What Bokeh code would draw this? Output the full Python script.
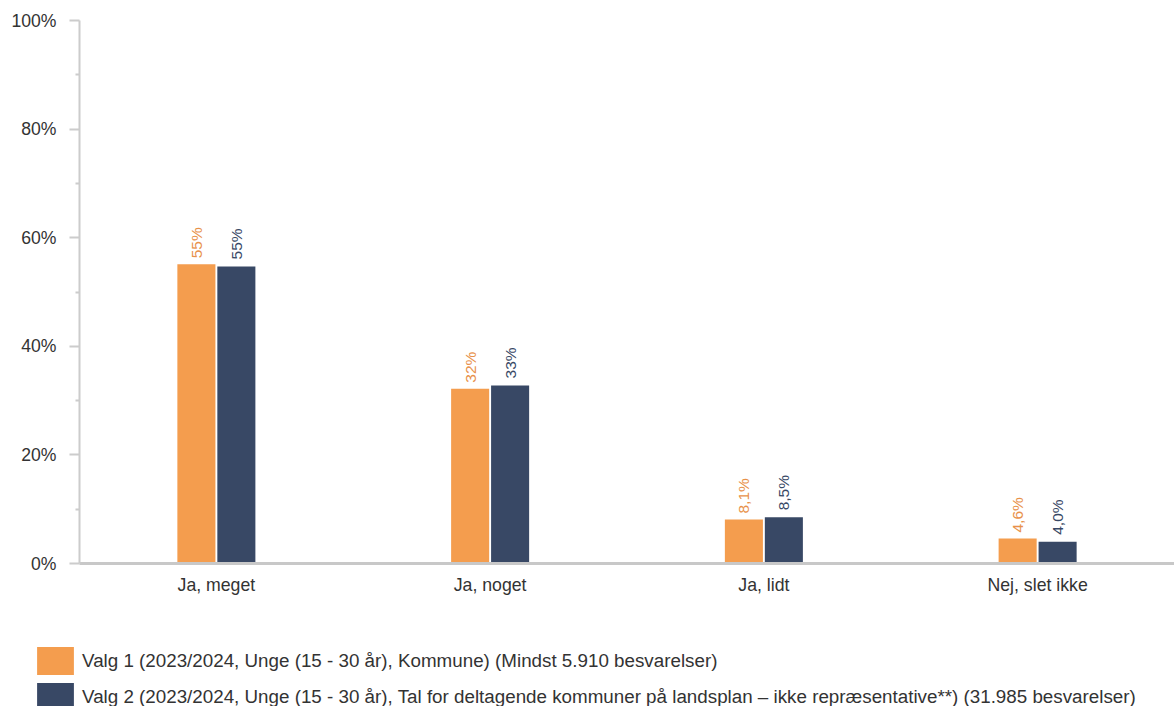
from bokeh.plotting import figure
from bokeh.models import ColumnDataSource, Range1d, FixedTicker, PrintfTickFormatter, Legend, LegendItem, FactorRange
from bokeh.layouts import column
from bokeh.transform import dodge
from bokeh.embed import file_html
from bokeh.resources import INLINE
from bokeh.core.properties import value
import math

categories = ["Ja, meget", "Ja, noget", "Ja, lidt", "Nej, slet ikke"]
valg1 = [55.1, 32.2, 8.1, 4.6]
valg2 = [54.7, 32.8, 8.5, 4.0]
labels1 = ["55%", "32%", "8,1%", "4,6%"]
labels2 = ["55%", "33%", "8,5%", "4,0%"]
series_names = [
    "Valg 1 (2023/2024, Unge (15 - 30 år), Kommune) (Mindst 5.910 besvarelser)",
    "Valg 2 (2023/2024, Unge (15 - 30 år), Tal for deltagende kommuner på landsplan – ikke repræsentative**) (31.985 besvarelser)",
]
y_ticks = [0, 20, 40, 60, 80, 100]

ORANGE = "#F49D4E"
NAVY = "#384865"
ORANGE_TXT = "#E8914A"
FONT = "Liberation Sans"

src = ColumnDataSource(dict(cat=categories, v1=valg1, v2=valg2, l1=labels1, l2=labels2))

p = figure(x_range=FactorRange(*categories, range_padding=0), y_range=Range1d(0, 100),
           width=1174, height=600, output_backend="svg", toolbar_location=None,
           min_border_left=79, min_border_right=0, min_border_top=20, min_border_bottom=37)
p.outline_line_color = None
p.xgrid.grid_line_color = None
p.ygrid.grid_line_color = None
p.frame_align = False

off = 0.073
bw = 0.139
r1 = p.vbar(x=dodge("cat", -off, range=p.x_range), top="v1", width=bw, source=src,
            fill_color=ORANGE, line_color=None)
r2 = p.vbar(x=dodge("cat", off, range=p.x_range), top="v2", width=bw, source=src,
            fill_color=NAVY, line_color=None)

p.text(x=dodge("cat", -off, range=p.x_range), y="v1", text="l1", source=src, angle=math.pi / 2,
       text_align="left", text_baseline="middle", x_offset=0, y_offset=-6,
       text_font=value(FONT), text_font_size="15.5px", text_color=ORANGE_TXT)
p.text(x=dodge("cat", off, range=p.x_range), y="v2", text="l2", source=src, angle=math.pi / 2,
       text_align="left", text_baseline="middle", x_offset=0, y_offset=-7,
       text_font=value(FONT), text_font_size="15.5px", text_color=NAVY)

ya = p.yaxis[0]
ya.ticker = FixedTicker(ticks=y_ticks, minor_ticks=[10, 30, 50, 70, 90])
ya.formatter = PrintfTickFormatter(format="%d%%")
ya.axis_line_color = "#CCCCCC"
ya.axis_line_width = 2
ya.major_tick_line_color = "#CCCCCC"
ya.major_tick_line_width = 2
ya.major_tick_out = 10
ya.major_tick_in = 0
ya.minor_tick_line_color = "#CCCCCC"
ya.minor_tick_line_width = 2
ya.minor_tick_out = 4
ya.minor_tick_in = 0
ya.major_label_text_font = FONT
ya.major_label_text_font_size = "17.6px"
ya.major_label_text_color = "#333333"
ya.major_label_standoff = 13

xa = p.xaxis[0]
xa.axis_line_color = "#C8C8C8"
xa.axis_line_width = 3
xa.major_tick_line_color = None
xa.minor_tick_line_color = None
xa.major_label_text_font = FONT
xa.major_label_text_font_size = "17.7px"
xa.major_label_text_color = "#333333"
xa.major_label_standoff = 5

# legend panel (same series colours; dummy points lie outside the visible range)
lf = figure(width=1174, height=106, output_backend="svg", toolbar_location=None,
            x_axis_type=None, y_axis_type=None, x_range=Range1d(0, 1), y_range=Range1d(0, 1),
            min_border=0)
lf.outline_line_color = None
lf.xgrid.grid_line_color = None
lf.ygrid.grid_line_color = None
lf.frame_align = False
dummy = ColumnDataSource(dict(x=[-5], top=[-5]))
d1 = lf.vbar(x="x", top="top", width=0.1, source=dummy, fill_color=ORANGE, line_color=None)
d2 = lf.vbar(x="x", top="top", width=0.1, source=dummy, fill_color=NAVY, line_color=None)

legend = Legend(items=[LegendItem(label=series_names[0], renderers=[d1], index=0),
                       LegendItem(label=series_names[1], renderers=[d2], index=0)],
                location=(32, -8), orientation="vertical",
                glyph_width=46, glyph_height=35, label_standoff=4, spacing=1,
                label_height=35,
                label_text_font=FONT, label_text_font_size="18.8px", label_text_color="#333333",
                border_line_color=None, background_fill_alpha=0, padding=0, margin=0)
lf.add_layout(legend, "center")

layout = column(p, lf, spacing=0)
open("out.html", "w").write(file_html(layout, INLINE))
